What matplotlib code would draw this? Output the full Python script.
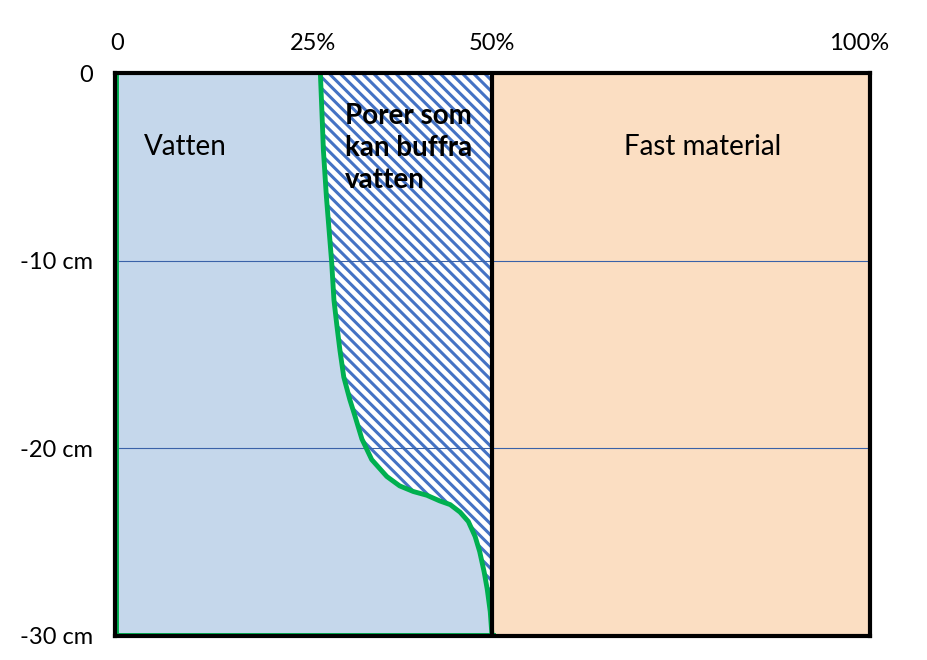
import numpy as np
import matplotlib
matplotlib.use('Agg')
import matplotlib.pyplot as plt

plt.rcParams['font.family'] = ['Lato', 'DejaVu Sans']
plt.rcParams['hatch.linewidth'] = 2.2

# water content (%) along depth (cm)
depth = [0, -2.0, -4.1, -6.6, -10.1, -12.1, -13.5, -14.8, -16.2, -17.4, -18.3,
         -19.5, -20.6, -21.5, -22.0, -22.3, -22.5, -22.8, -23.0, -23.4, -23.9,
         -24.7, -25.5, -26.6, -27.5, -28.7, -29.8, -30]
water = [27.2, 27.4, 27.6, 28.0, 28.7, 29.0, 29.4, 29.8, 30.3, 31.1, 31.8,
         32.7, 34.0, 36.0, 37.7, 39.5, 41.3, 43.0, 44.4, 45.7, 46.8,
         47.7, 48.3, 48.9, 49.3, 49.7, 49.9, 50.0]
pore_limit = 50
solid_limit = 100

xtick_labels = ['0', '25%', '50%', '100%']
xtick_pos = [0.3, 26.2, 49.9, 98.6]
ytick_vals = [0, -10, -20, -30]
ytick_labels = ['0', '-10 cm', '-20 cm', '-30 cm']

blue_fill = '#C5D7EB'
hatch_blue = '#4472C4'
orange = '#FBDEC2'
green = '#00B050'

fig = plt.figure(figsize=(9.28, 6.6), dpi=100)
ax = fig.add_axes([115/928, 1-636/660, 755/928, 563/660])

d = np.array(depth)
w = np.array(water)

# water region
ax.fill_betweenx(d, 0, w, facecolor=blue_fill, edgecolor='none', zorder=1)
# pores that can buffer water
ax.fill_betweenx(d, w, pore_limit, facecolor='white', edgecolor=hatch_blue,
                 hatch='\\\\\\', linewidth=0, zorder=1)
# solid material
ax.fill_betweenx([0, -30], pore_limit, solid_limit, facecolor=orange,
                 edgecolor='none', zorder=1)

for yv in [-10, -20]:
    ax.axhline(yv, color='#3A62A8', lw=0.8, zorder=1.5)

ax.plot(w, d, color=green, lw=3.5, zorder=2, solid_capstyle='round',
        solid_joinstyle='round')
ax.plot([0, 0, pore_limit], [0, -30, -30], color=green, lw=5, zorder=1.8)
ax.axvline(pore_limit, color='black', lw=3, zorder=3)

ax.set_xlim(0, solid_limit)
ax.set_ylim(-30, 0)
for s in ax.spines.values():
    s.set_linewidth(3)
    s.set_zorder(3)

ax.xaxis.tick_top()
ax.set_xticks(xtick_pos)
ax.set_xticklabels(xtick_labels, fontsize=17)
ax.set_yticks(ytick_vals)
ax.set_yticklabels(ytick_labels, fontsize=17)
ax.tick_params(axis='x', length=0, pad=14)
ax.tick_params(axis='y', length=0, pad=16)

ax.text(9.3, -3.95, 'Vatten', fontsize=20, ha='center', va='center')
ax.text(30.5, -4.0, 'Porer som\nkan buffra\nvatten', fontsize=20,
        fontweight='bold', ha='left', va='center', linespacing=1.3)
ax.text(77.8, -3.95, 'Fast material', fontsize=20, ha='center', va='center')

fig.savefig('out.png', dpi=100)
